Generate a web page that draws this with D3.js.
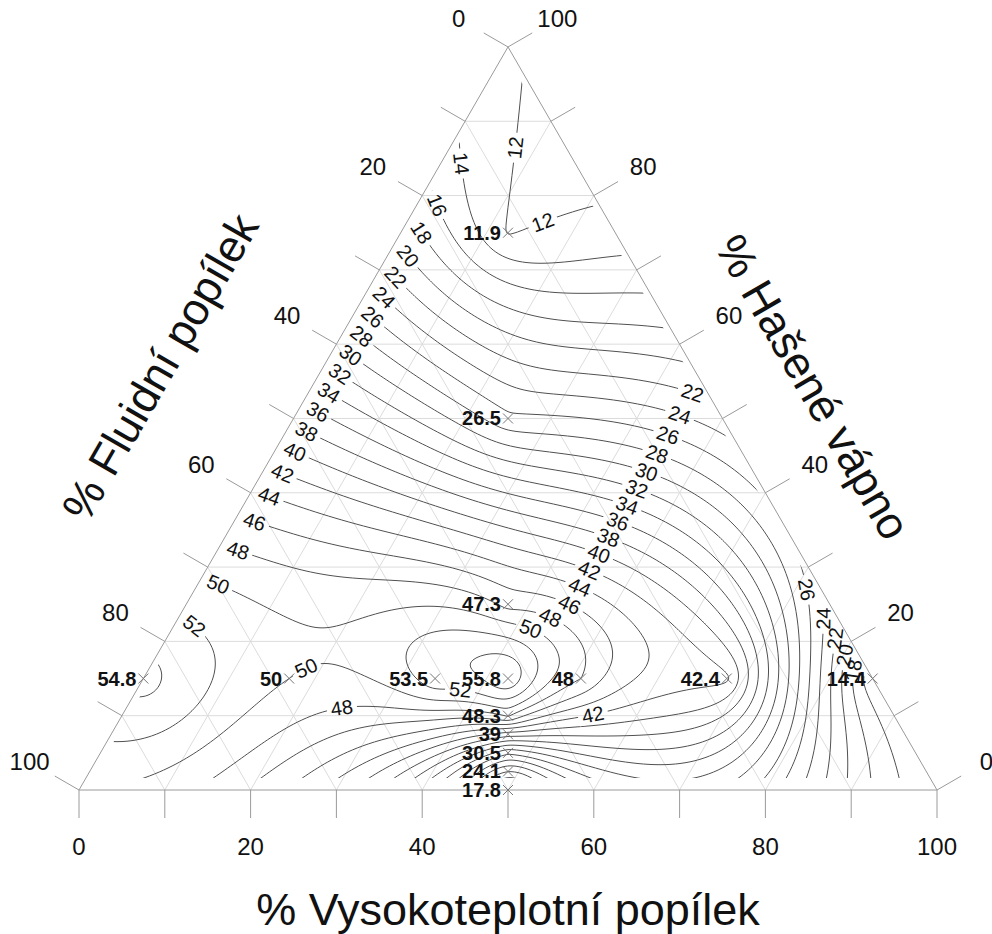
<!DOCTYPE html>
<html><head><meta charset="utf-8">
<script src="https://cdn.jsdelivr.net/npm/d3@7"></script>
<style>body{margin:0;background:#fff}svg{display:block}text{font-family:"Liberation Sans",Arial,sans-serif}</style>
</head><body><svg id="c" width="992" height="934"></svg>
<script>
// ---- data (composition in %, measured value) ----
const vysoko  = [12.5, 25, 37.5, 42.5, 45, 46.25, 47.5, 48.75, 50, 0, 17, 34, 51, 68, 85];
const hasene  = [75, 50, 25, 15, 10, 7.5, 5, 2.5, 0, 15, 15, 15, 15, 15, 15];
const fluidni = vysoko.map((v, i) => 100 - v - hasene[i]);
const values  = [11.9, 26.5, 47.3, 55.8, 48.3, 39, 30.5, 24.1, 17.8, 54.8, 50, 53.5, 48, 42.4, 14.4];
const pointLabels = ["11.9","26.5","47.3","55.8","48.3","39","30.5","24.1","17.8","54.8","50","53.5","48","42.4","14.4"];
const levels = d3.range(0, 62, 2);
const tickLabels = [0, 20, 40, 60, 80, 100];
const tickMinor = d3.range(0, 101, 10);
const gridLines = d3.range(10, 100, 10);
const leftLabelLevels = d3.range(14, 54, 2);
const diagLabelLevels = d3.range(22, 52, 2);
const edgeLabelLevels = d3.range(18, 28, 2);
const extraLabels = [[12, 518, 148], [12, 543, 223], [48, 342, 709], [50, 307, 670], [52, 460, 692], [42, 593, 715]];

// ---- layout ----
const svg = d3.select("#c");
const R3 = Math.sqrt(3) / 2;
const sx = d3.scaleLinear().domain([0, 100]).range([79, 937]);
const sy = d3.scaleLinear().domain([0, 100]).range([790, -68]);
const P = (v, h) => [sx(v + h / 2), sy(h * R3)];

// ---- kriging-type interpolation (linear variogram) of the measured points ----
const dx = vysoko.map((v, i) => v + hasene[i] / 2), dy = hasene.map(h => h * R3);
const n = values.length;
const phi = r => r;
function solve(M, b) {
  const m = b.length, a = M.map((r, i) => [...r, b[i]]);
  for (let c = 0; c < m; c++) {
    let p = c; for (let r = c + 1; r < m; r++) if (Math.abs(a[r][c]) > Math.abs(a[p][c])) p = r;
    [a[c], a[p]] = [a[p], a[c]];
    for (let r = 0; r < m; r++) { if (r === c) continue; const f = a[r][c] / a[c][c]; for (let k = c; k <= m; k++) a[r][k] -= f * a[c][k]; }
  }
  return a.map((r, i) => r[m] / r[i]);
}
const M = [], b = [];
for (let i = 0; i < n; i++) {
  const row = [];
  for (let j = 0; j < n; j++) row.push(phi(Math.hypot(dx[i] - dx[j], dy[i] - dy[j])));
  row.push(1); M.push(row); b.push(values[i]);
}
{ const row = []; for (let j = 0; j < n; j++) row.push(1); row.push(0); M.push(row); b.push(0); }
const coef = solve(M, b);
function field(x, y) {
  let s = coef[n];
  for (let i = 0; i < n; i++) s += coef[i] * phi(Math.hypot(x - dx[i], y - dy[i]));
  return s;
}
const fpx = (px, py) => field(sx.invert(px), sy.invert(py));

// ---- grid lines ----
const g = svg.append("g");
const line = d3.line();
gridLines.forEach(k => {
  g.append("path").attr("d", line([P(0, k), P(100 - k, k)])).attr("stroke", "#dcdcdc").attr("fill", "none");
  g.append("path").attr("d", line([P(k, 0), P(k, 100 - k)])).attr("stroke", "#dcdcdc").attr("fill", "none");
  g.append("path").attr("d", line([P(100 - k, 0), P(0, 100 - k)])).attr("stroke", "#dcdcdc").attr("fill", "none");
});

// ---- contours ----
const step = 2, x0 = 60, y0 = 30, nx = 451, ny = 386;
const grid = new Float64Array(nx * ny);
for (let j = 0; j < ny; j++) for (let i = 0; i < nx; i++) grid[j * nx + i] = fpx(x0 + i * step, y0 + j * step);
const contours = d3.contours().size([nx, ny]).thresholds(levels)(grid);
const path = d3.geoPath(d3.geoTransform({ point(x, y) { this.stream.point(x0 + (x - 0.5) * step, y0 + (y - 0.5) * step); } }));

const defs = svg.append("defs");
const clipT = [P(0.8, 1.6), P(97.6, 1.6), P(0.8, 98.4)];
defs.append("clipPath").attr("id", "tri").append("polygon").attr("points", clipT.join(" "));
const mask = defs.append("mask").attr("id", "lm").attr("maskUnits", "userSpaceOnUse").attr("x", 0).attr("y", 0).attr("width", 992).attr("height", 934);
mask.append("rect").attr("width", 992).attr("height", 934).attr("fill", "#fff");

svg.append("g").attr("clip-path", "url(#tri)").append("g").attr("mask", "url(#lm)")
  .selectAll("path").data(contours).join("path")
  .attr("d", path).attr("fill", "none").attr("stroke", "#505050").attr("stroke-width", 1);

// ---- contour labels ----
const labels = [];
function gradAt(px, py) { const e = 0.5; return [(fpx(px + e, py) - fpx(px - e, py)) / (2 * e), (fpx(px, py + e) - fpx(px, py - e)) / (2 * e)]; }
function crossings(pts, lv) {
  const out = {};
  for (let k = 0; k < pts.length - 1; k++) {
    const a = pts[k], c = pts[k + 1], fa = fpx(...a), fc = fpx(...c);
    lv.forEach(L => { if (out[L]) return; if ((fa - L) * (fc - L) <= 0 && fa !== fc) { const t = (L - fa) / (fc - fa); out[L] = [a[0] + t * (c[0] - a[0]), a[1] + t * (c[1] - a[1])]; } });
  }
  return out;
}
function sample(poly, N) {
  const pts = [];
  for (let s = 0; s < poly.length - 1; s++) for (let k = 0; k < N; k++) { const t = k / N; pts.push([poly[s][0] + t * (poly[s + 1][0] - poly[s][0]), poly[s][1] + t * (poly[s + 1][1] - poly[s][1])]); }
  pts.push(poly[poly.length - 1]); return pts;
}
function addAll(obj) { Object.keys(obj).forEach(L => labels.push([+L, obj[L]])); }
addAll(crossings(sample([P(2.4, 96), P(2.4, 4)], 800), leftLabelLevels));
addAll(crossings(sample([[700, 380], [568, 607], [520, 635]], 400), diagLabelLevels));
addAll(crossings(sample([P(100 - 1.7 - 36, 36), P(100 - 1.7 - 12, 12)], 300), edgeLabelLevels));
extraLabels.forEach(([L, px, py]) => {
  let p = [px, py];
  for (let it = 0; it < 30; it++) { const gr = gradAt(...p), g2 = gr[0] * gr[0] + gr[1] * gr[1]; if (g2 < 1e-9) break; const d = fpx(...p) - L; p = [p[0] - d * gr[0] / g2, p[1] - d * gr[1] / g2]; }
  if (Math.hypot(p[0] - px, p[1] - py) < 40) labels.push([L, p]);
});
const lg = svg.append("g");
labels.forEach(([L, p]) => {
  const gr = gradAt(...p);
  let ang = Math.atan2(gr[0], -gr[1]) * 180 / Math.PI;
  if (ang > 90) ang -= 180; if (ang < -90) ang += 180;
  const tr = `translate(${p[0]},${p[1]}) rotate(${ang})`;
  const t = lg.append("text").attr("transform", tr).attr("text-anchor", "middle").attr("dy", "0.35em").attr("font-size", 20).attr("fill", "#111").text(L);
  const w = t.node().getComputedTextLength();
  mask.append("rect").attr("transform", tr).attr("x", -w / 2 - 4).attr("y", -9).attr("width", w + 8).attr("height", 18).attr("fill", "#000");
});

// ---- triangle frame & ticks ----
const fr = svg.append("g").attr("stroke", "#9a9a9a").attr("fill", "none");
fr.append("path").attr("d", line([P(0, 0), P(100, 0), P(0, 100)]) + "Z");
const TL = 28, c30 = Math.cos(Math.PI / 6), s30 = 0.5;
tickMinor.forEach(k => {
  const b0 = P(k, 0); fr.append("path").attr("d", line([b0, [b0[0], b0[1] + TL]]));
  const l0 = P(0, 100 - k); fr.append("path").attr("d", line([l0, [l0[0] - TL * c30, l0[1] - TL * s30]]));
  const r0 = P(100 - k, k); fr.append("path").attr("d", line([r0, [r0[0] + TL * c30, r0[1] - TL * s30]]));
});
const tl = svg.append("g").attr("font-size", 24).attr("fill", "#111").attr("text-anchor", "middle");
tickLabels.forEach(k => {
  const b0 = P(k, 0); tl.append("text").attr("x", b0[0]).attr("y", b0[1] + 57).attr("dy", "0.35em").text(k);
  const l0 = P(0, 100 - k); tl.append("text").attr("x", l0[0] - 57 * c30).attr("y", l0[1] - 57 * s30).attr("dy", "0.35em").text(k);
  const r0 = P(100 - k, k); tl.append("text").attr("x", r0[0] + 57 * c30).attr("y", r0[1] - 57 * s30).attr("dy", "0.35em").text(k);
});

// ---- measured points ----
const pg = svg.append("g");
values.forEach((v, i) => {
  const [px, py] = P(vysoko[i], hasene[i]);
  pg.append("path").attr("d", `M${px - 5},${py - 5}L${px + 5},${py + 5}M${px - 5},${py + 5}L${px + 5},${py - 5}`).attr("stroke", "#777");
  pg.append("text").attr("x", px - 7).attr("y", py).attr("dy", "0.35em").attr("text-anchor", "end").attr("font-size", 20).attr("font-weight", "bold").attr("fill", "#111").text(pointLabels[i]);
});

// ---- axis titles ----
svg.append("text").attr("x", 508).attr("y", 925).attr("text-anchor", "middle").attr("font-size", 45).attr("fill", "#111").text("% Vysokoteplotní popílek");
svg.append("text").attr("transform", "translate(160,367) rotate(-60)").attr("text-anchor", "middle").attr("dy", "0.35em").attr("font-size", 45).attr("fill", "#111").text("% Fluidní popílek");
svg.append("text").attr("transform", "translate(813,387) rotate(60)").attr("text-anchor", "middle").attr("dy", "0.35em").attr("font-size", 45).attr("fill", "#111").text("% Hašené vápno");
</script></body></html>
